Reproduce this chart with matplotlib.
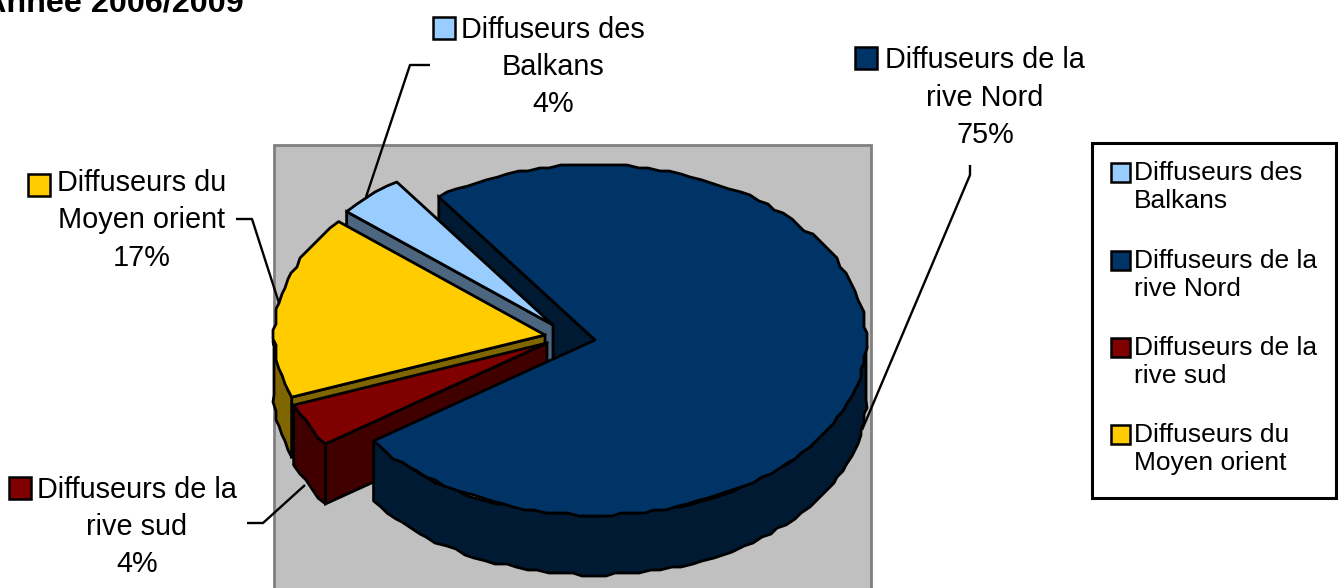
"""
3D exploded pie chart, drawn in a pixel-sized axes
"""

import matplotlib
matplotlib.use("Agg")
import matplotlib.pyplot as plt
import numpy as np
from matplotlib.patches import Polygon, Rectangle

plt.rcParams["font.family"] = ["Liberation Sans", "DejaVu Sans"]

# --- data ---
TITLE = "Année 2006/2009"
CATEGORIES = [
    "Diffuseurs des\nBalkans",
    "Diffuseurs de la\nrive Nord",
    "Diffuseurs de la\nrive sud",
    "Diffuseurs du\nMoyen orient",
]
SHARES = [4, 75, 4, 17]

# --- style ---
TOP_COLORS = ["#99CCFF", "#003366", "#800000", "#FFCC00"]
WALL_COLORS = ["#4D6680", "#001A33", "#400000", "#806600"]
START_ANGLE = 139.6  # slices run clockwise from here
RX, RY, DEPTH = 271, 175, 60
APEX = [(553, 325), (595, 340), (547, 343), (545, 335)]
LW = 2.0
STEP = 3  # the source outline is wobbly
FACET = 2.3  # degrees per outline segment

LABEL_CENTER = [(553, 67), (985, 97.5), (137, 527), (142, 220.5)]
LABEL_KEY = [(433, 17), (855, 47), (9, 477), (28, 174)]
LEADERS = [
    ([430, 410, 366], [65, 65, 197]),
    ([970, 970, 862], [165, 175, 430]),
    ([247, 263, 305], [523, 523, 485]),
    ([236, 252, 279], [219, 219, 303]),
]
LEGEND_Y = [161, 249, 336, 423]

# slice angles from the values
sizes = np.array(SHARES) / sum(SHARES) * 360.0
highs = START_ANGLE - np.concatenate([[0], np.cumsum(sizes)[:-1]])
lows = highs - sizes


def rim(apex, a0, a1, drop=0):
    n = max(2, int(abs(a1 - a0) / FACET))
    t = np.radians(np.linspace(a0, a1, n))
    pts = np.column_stack([apex[0] + RX * np.cos(t), apex[1] - RY * np.sin(t) + drop])
    pts[1:-1] = np.round(pts[1:-1] / STEP) * STEP
    return pts


def edge_point(apex, a):
    t = np.radians(a)
    return apex[0] + RX * np.cos(t), apex[1] - RY * np.sin(t)


def draw_top(ax, i):
    pts = np.vstack([[APEX[i]], rim(APEX[i], lows[i], highs[i])])
    ax.add_patch(Polygon(pts, closed=True, fc=TOP_COLORS[i], ec="black", lw=LW, joinstyle="round"))


def draw_cut_wall(ax, i):
    # the wall of the counter-clockwise edge is the one facing the viewer
    x, y = APEX[i]
    ex, ey = edge_point(APEX[i], highs[i])
    pts = [(x, y), (ex, ey), (ex, ey + DEPTH), (x, y + DEPTH)]
    ax.add_patch(Polygon(pts, closed=True, fc=WALL_COLORS[i], ec="black", lw=LW))


def draw_rim_wall(ax, i):
    # angles run clockwise into negatives, the front of the rim is -180..0
    hi_front = min(highs[i], 0.0)
    lo_front = max(lows[i], -180.0)
    if hi_front <= lo_front:
        return
    upper = rim(APEX[i], lo_front, hi_front)
    lower = rim(APEX[i], hi_front, lo_front, DEPTH)
    ax.add_patch(Polygon(np.vstack([upper, lower]), closed=True, fc=WALL_COLORS[i], ec="black", lw=LW,
                         joinstyle="round"))


fig = plt.figure(figsize=(13.42, 5.88), dpi=100)
ax = fig.add_axes([0, 0, 1, 1])
ax.set_xlim(0, 1342)
ax.set_ylim(588, 0)
ax.axis("off")

# plot area
ax.add_patch(Rectangle((274, 145), 597, 460, fc="#C0C0C0", ec="#808080", lw=2))

# back to front
draw_cut_wall(ax, 1)
for i in [0, 3, 2]:
    draw_cut_wall(ax, i)
    draw_rim_wall(ax, i)
    draw_top(ax, i)
draw_rim_wall(ax, 1)
draw_top(ax, 1)

# data labels
for i, cat in enumerate(CATEGORIES):
    cx, cy = LABEL_CENTER[i]
    ax.text(cx, cy, f"{cat}\n{SHARES[i]}%", ha="center", va="center", fontsize=20.8,
            linespacing=1.43, color="black")
    kx, ky = LABEL_KEY[i]
    ax.add_patch(Rectangle((kx, ky), 22, 22, fc=TOP_COLORS[i], ec="black", lw=1.8))
    ax.plot(LEADERS[i][0], LEADERS[i][1], color="black", lw=1.7, solid_capstyle="butt")

# legend box
ax.add_patch(Rectangle((1092, 143), 244, 355, fc="white", ec="black", lw=2.2))
for i, cat in enumerate(CATEGORIES):
    ax.add_patch(Rectangle((1111, LEGEND_Y[i] + 2), 19, 19, fc=TOP_COLORS[i], ec="black", lw=1.8))
    ax.text(1134, LEGEND_Y[i], cat, ha="left", va="top", fontsize=19, linespacing=1.22, color="black")

# title is cut by the picture edge, as in the source
ax.text(-17, 12, TITLE, ha="left", va="baseline", fontsize=23.3, fontweight="bold", color="black")

fig.savefig("out.png", dpi=100)
